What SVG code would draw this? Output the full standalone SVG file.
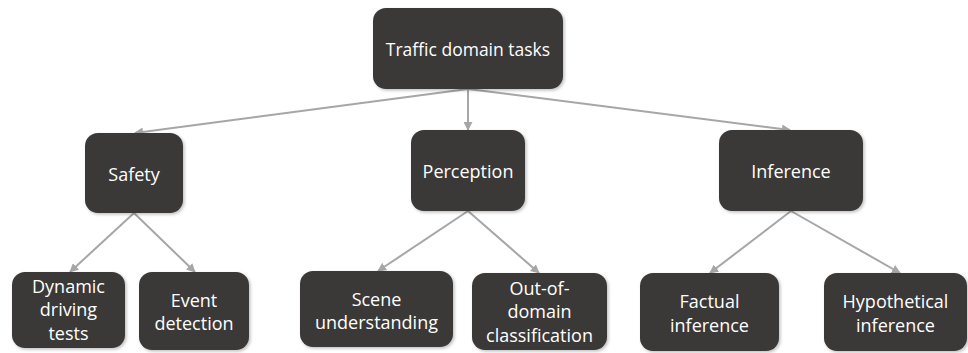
<svg xmlns="http://www.w3.org/2000/svg" width="968" height="353" viewBox="0 0 968 353">
  <defs>
    <marker id="arrow" viewBox="0 0 10 10" refX="9" refY="5" markerWidth="4.5" markerHeight="4.5" orient="auto" markerUnits="strokeWidth">
      <path d="M0,0 L10,5 L0,10 z" fill="#a6a6a6"/>
    </marker>
    <filter id="shadow" x="-10%" y="-10%" width="125%" height="130%">
      <feDropShadow dx="1.5" dy="1.5" stdDeviation="1.5" flood-color="#000" flood-opacity="0.25"/>
    </filter>
    <style>
      .box { fill: #3b3838; filter: url(#shadow); }
      .lbl { fill: #ffffff; font-family: "Open Sans", "Liberation Sans", sans-serif; font-size: 18px; text-anchor: middle; }
      .edge { stroke: #a6a6a6; stroke-width: 2; fill: none; marker-end: url(#arrow); }
    </style>
  </defs>
  <rect width="968" height="353" fill="#ffffff"/>

  <!-- connectors -->
  <g id="connectors">
    <line class="edge" x1="468" y1="89" x2="135" y2="133"/>
    <line class="edge" x1="468" y1="89" x2="468" y2="130"/>
    <line class="edge" x1="468" y1="89" x2="790" y2="130"/>
    <line class="edge" x1="134" y1="213" x2="70" y2="272"/>
    <line class="edge" x1="134" y1="213" x2="195" y2="272"/>
    <line class="edge" x1="468" y1="211" x2="378" y2="271"/>
    <line class="edge" x1="468" y1="211" x2="539" y2="273"/>
    <line class="edge" x1="791" y1="211" x2="710" y2="273"/>
    <line class="edge" x1="791" y1="211" x2="900" y2="273"/>
  </g>

  <g id="root">
    <rect class="box" x="373" y="8" width="190" height="81" rx="13"/>
    <text class="lbl" x="468" y="56" style="font-size:17.5px">Traffic domain tasks</text>
  </g>

  <g id="safety">
    <rect class="box" x="85" y="133" width="98" height="80" rx="13"/>
    <text class="lbl" x="134" y="181">Safety</text>
  </g>
  <g id="perception">
    <rect class="box" x="411" y="130" width="114" height="81" rx="13"/>
    <text class="lbl" x="468" y="178">Perception</text>
  </g>
  <g id="inference">
    <rect class="box" x="719" y="130" width="144" height="81" rx="13"/>
    <text class="lbl" x="791" y="178">Inference</text>
  </g>

  <g id="dynamic-driving-tests">
    <rect class="box" x="12" y="272" width="113" height="76" rx="13"/>
    <text class="lbl" x="68.5" y="293">Dynamic</text>
    <text class="lbl" x="68.5" y="316">driving</text>
    <text class="lbl" x="68.5" y="340">tests</text>
  </g>
  <g id="event-detection">
    <rect class="box" x="139" y="272" width="110" height="78" rx="13"/>
    <text class="lbl" x="194" y="307">Event</text>
    <text class="lbl" x="194" y="330">detection</text>
  </g>
  <g id="scene-understanding">
    <rect class="box" x="300" y="271" width="153" height="76" rx="13"/>
    <text class="lbl" x="376.5" y="306">Scene</text>
    <text class="lbl" x="376.5" y="329">understanding</text>
  </g>
  <g id="out-of-domain">
    <rect class="box" x="472" y="273" width="135" height="77" rx="13"/>
    <text class="lbl" x="539.5" y="295">Out-of-</text>
    <text class="lbl" x="539.5" y="318">domain</text>
    <text class="lbl" x="539.5" y="342">classification</text>
  </g>
  <g id="factual-inference">
    <rect class="box" x="640" y="273" width="139" height="78" rx="13"/>
    <text class="lbl" x="709.5" y="308">Factual</text>
    <text class="lbl" x="709.5" y="332">inference</text>
  </g>
  <g id="hypothetical-inference">
    <rect class="box" x="824" y="273" width="143" height="78" rx="13"/>
    <text class="lbl" x="895.5" y="308">Hypothetical</text>
    <text class="lbl" x="895.5" y="332">inference</text>
  </g>
</svg>
